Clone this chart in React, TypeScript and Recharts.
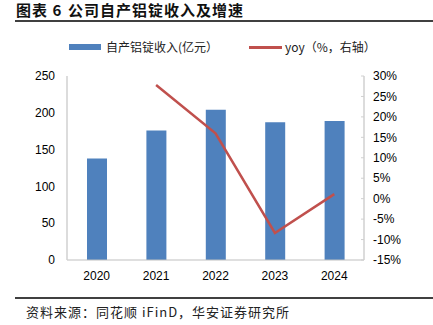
import { Bar, ComposedChart, Line, XAxis, YAxis } from "recharts";

const years = ["2020", "2021", "2022", "2023", "2024"];
const revenue = [138, 176, 204, 187, 189];
const yoy = [null, 27.8, 16.0, -8.4, 1.1];
const leftTicks = [0, 50, 100, 150, 200, 250];
const rightTicks = [-15, -10, -5, 0, 5, 10, 15, 20, 25, 30];

const data = years.map((year, i) => ({ year, revenue: revenue[i], yoy: yoy[i] }));

const BLUE = "#4F81BD";
const RED = "#C0504D";
const AXIS = "#D0D0D0";
const NUM_FONT = "'Liberation Sans', Arial, sans-serif";
const CJK_FONT = "'Noto Sans CJK SC', sans-serif";

function RightTick(props: any) {
  const { x, y, payload } = props;
  return (
    <g>
      <line x1={x - 12} x2={x - 9} y1={y} y2={y} stroke={AXIS} />
      <text x={x} y={y} dy="0.355em" textAnchor="start" fontSize={12} fontFamily={NUM_FONT} fill="#000">
        {payload.value}%
      </text>
    </g>
  );
}

export default function App() {
  return (
    <div
      style={{
        position: "absolute",
        left: 0,
        top: 0,
        width: 433,
        height: 325,
        background: "#fff",
        overflow: "hidden",
      }}
    >
      <div
        style={{
          position: "absolute",
          left: 16,
          top: 1,
          fontFamily: CJK_FONT,
          fontWeight: 700,
          fontSize: 15,
          lineHeight: "18px",
          color: "#111",
          letterSpacing: 1,
          whiteSpace: "nowrap",
        }}
      >
        图表 6
      </div>
      <div
        style={{
          position: "absolute",
          left: 68,
          top: 1,
          fontFamily: CJK_FONT,
          fontWeight: 700,
          fontSize: 15,
          lineHeight: "18px",
          color: "#111",
          letterSpacing: 1,
          whiteSpace: "nowrap",
        }}
      >
        公司自产铝锭收入及增速
      </div>
      <div style={{ position: "absolute", left: 15, right: 0, top: 20, height: 1.5, background: "#404040" }} />

      {/* legend */}
      <div style={{ position: "absolute", left: 69, top: 44, width: 32, height: 6, background: BLUE }} />
      <div
        style={{
          position: "absolute",
          left: 106,
          top: 39,
          fontFamily: CJK_FONT,
          fontSize: 12,
          lineHeight: "16px",
          color: "#222",
          whiteSpace: "nowrap",
        }}
      >
        自产铝锭收入(亿元）
      </div>
      <div style={{ position: "absolute", left: 249, top: 46, width: 33, height: 2.5, background: RED }} />
      <div
        style={{
          position: "absolute",
          left: 285,
          top: 39,
          fontFamily: CJK_FONT,
          fontSize: 12,
          lineHeight: "16px",
          color: "#222",
          whiteSpace: "nowrap",
        }}
      >
        yoy（%，右轴）
      </div>

      <div style={{ position: "absolute", left: 0, top: 0 }}>
        <ComposedChart width={433} height={325} data={data} margin={{ top: 76, right: 0, bottom: 35, left: 0 }}>
          <XAxis
            dataKey="year"
            height={30}
            tickLine={false}
            axisLine={{ stroke: "#BFBFBF" }}
            tickMargin={5}
            tick={{ fontSize: 12, fontFamily: NUM_FONT, fill: "#000" }}
          />
          <YAxis
            yAxisId="left"
            width={67}
            domain={[0, 250]}
            ticks={leftTicks}
            interval={0}
            tickLine={false}
            axisLine={{ stroke: AXIS, strokeWidth: 1.5 }}
            tickMargin={6}
            tick={{ fontSize: 12, fontFamily: NUM_FONT, fill: "#000" }}
          />
          <YAxis
            yAxisId="right"
            orientation="right"
            width={69}
            domain={[-15, 30]}
            ticks={rightTicks}
            interval={0}
            tickLine={false}
            tickSize={0}
            tickMargin={9}
            axisLine={{ stroke: AXIS, strokeWidth: 1.5 }}
            tick={<RightTick />}
          />
          <Bar yAxisId="left" dataKey="revenue" fill={BLUE} barSize={20} isAnimationActive={false} />
          <Line
            yAxisId="right"
            dataKey="yoy"
            type="linear"
            stroke={RED}
            strokeWidth={2.5}
            dot={false}
            connectNulls={false}
            isAnimationActive={false}
          />
        </ComposedChart>
      </div>

      <div style={{ position: "absolute", left: 15, right: 0, top: 297, height: 1.5, background: "#404040" }} />
      <div
        style={{
          position: "absolute",
          left: 26,
          top: 303,
          fontFamily: CJK_FONT,
          fontSize: 13,
          lineHeight: "18px",
          letterSpacing: 1,
          color: "#222",
          whiteSpace: "nowrap",
        }}
      >
        资料来源：同花顺 iFinD，华安证券研究所
      </div>
    </div>
  );
}
